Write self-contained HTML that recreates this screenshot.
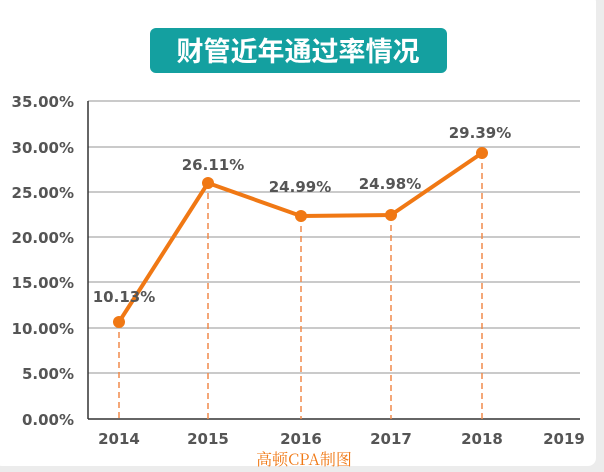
<!DOCTYPE html>
<html><head><meta charset="utf-8"><style>
html,body{margin:0;padding:0;background:#ececec;width:604px;height:472px;overflow:hidden}
</style></head><body>
<svg width="604" height="472" xmlns="http://www.w3.org/2000/svg" style="display:block">
<rect x="-6" y="-6" width="602" height="472" rx="8" fill="#fff"/>
<rect x="150" y="28" width="297" height="45" rx="6" fill="#14a0a0"/>
<text x="298" y="61" text-anchor="middle" font-family="Noto Sans CJK SC, sans-serif" font-weight="bold" font-size="27" fill="#fff">财管近年通过率情况</text>
<g stroke="#aaa" stroke-width="1.3">
<line x1="88" y1="101" x2="580" y2="101"/><line x1="88" y1="147" x2="580" y2="147"/>
<line x1="88" y1="192" x2="580" y2="192"/><line x1="88" y1="237" x2="580" y2="237"/>
<line x1="88" y1="282" x2="580" y2="282"/><line x1="88" y1="328" x2="580" y2="328"/>
<line x1="88" y1="373" x2="580" y2="373"/>
</g>
<line x1="88" y1="101" x2="88" y2="419" stroke="#333" stroke-width="1.5"/>
<line x1="88" y1="419" x2="580" y2="419" stroke="#333" stroke-width="1.5"/>
<g font-family="DejaVu Sans, sans-serif" font-weight="bold" font-size="15" fill="#555" text-anchor="end">
<text x="74" y="107">35.00%</text><text x="74" y="153">30.00%</text><text x="74" y="198">25.00%</text>
<text x="74" y="243">20.00%</text><text x="74" y="288">15.00%</text><text x="74" y="334">10.00%</text>
<text x="74" y="379">5.00%</text><text x="74" y="425">0.00%</text>
</g>
<g font-family="DejaVu Sans, sans-serif" font-weight="bold" font-size="15" fill="#555" text-anchor="middle">
<text x="119" y="444">2014</text><text x="208" y="444">2015</text><text x="301" y="444">2016</text>
<text x="391" y="444">2017</text><text x="482" y="444">2018</text><text x="564" y="444">2019</text>
</g>
<g stroke="#f08a4b" stroke-width="1.5" stroke-dasharray="6,4">
<line x1="119" y1="322" x2="119" y2="419"/><line x1="208" y1="183" x2="208" y2="419"/>
<line x1="301" y1="216" x2="301" y2="419"/><line x1="391" y1="215" x2="391" y2="419"/>
<line x1="482" y1="153" x2="482" y2="419"/>
</g>
<polyline points="119,322 208,183 301,216 391,215 482,153" fill="none" stroke="#f07814" stroke-width="4" stroke-linejoin="round"/>
<g fill="#f07814">
<circle cx="119" cy="322" r="6"/><circle cx="208" cy="183" r="6"/><circle cx="301" cy="216" r="6"/>
<circle cx="391" cy="215" r="6"/><circle cx="482" cy="153" r="6"/>
</g>
<g font-family="DejaVu Sans, sans-serif" font-weight="bold" font-size="15" fill="#555" text-anchor="middle">
<text x="124" y="302">10.13%</text><text x="213" y="170">26.11%</text><text x="300" y="192">24.99%</text>
<text x="390" y="189">24.98%</text><text x="480" y="138">29.39%</text>
</g>
<text x="304" y="465" text-anchor="middle" font-family="Noto Serif CJK SC, serif" font-size="16" fill="#f07814">高顿CPA制图</text>
</svg>
</body></html>
